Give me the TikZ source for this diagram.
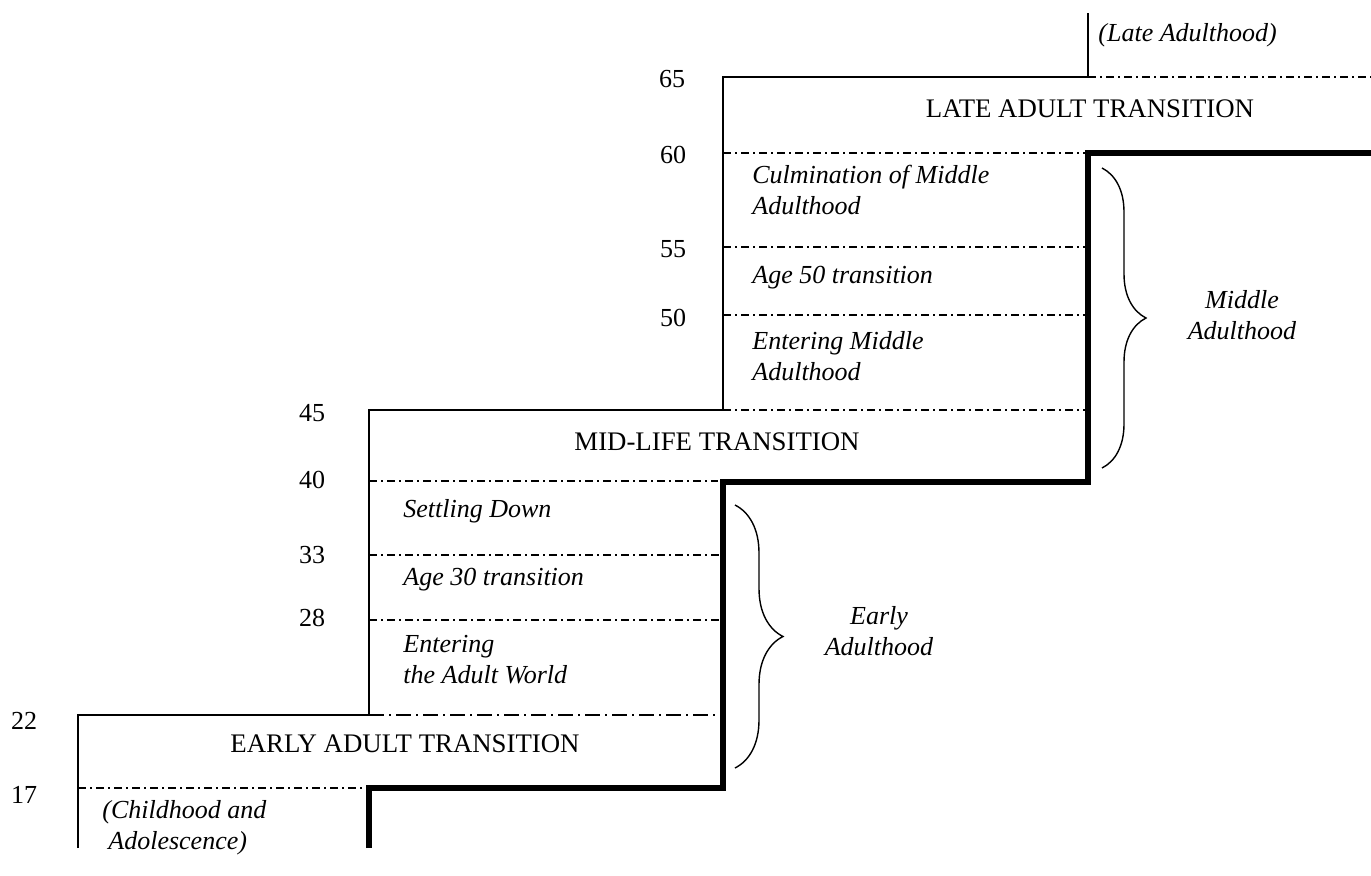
\documentclass[tikz,border=0pt]{standalone}
\usepackage{fontspec}
\setmainfont{Liberation Serif}
\usetikzlibrary{decorations.pathreplacing}
\tikzset{
  outline/.style={line width=0.8pt},
  phase/.style={line width=3.4pt},
  tick/.style={line width=0.6pt, dash pattern=on 4pt off 2pt on 1pt off 2pt},
  ticklong/.style={tick, dash pattern=on 7.5pt off 2.5pt on 1pt off 2.5pt},
  age/.style={font=\fontsize{13}{15}\selectfont, inner sep=0pt},
  trans/.style={font=\fontsize{13.4}{15}\selectfont, anchor=base, inner sep=0pt},
  era/.style={font=\fontsize{13}{15.5}\selectfont\itshape, align=left,
              anchor=base west, inner sep=0pt},
  span/.style={decorate, decoration={brace, amplitude=#1}, line width=0.7pt}
}
\begin{document}
\begin{tikzpicture}[x=0.5pt, y=-0.5pt]
  \useasboundingbox (0,0) rectangle (1371,875);
  % steps
  \draw[outline] (78,848) |- (369,715) |- (723,410) |- (1088,77) -- (1088,13);
  \draw[phase] (369,848) |- (723,788) |- (1088,482) |- (1371,153);
  \draw[tick] (78,788) -- (366,788);
  \draw[ticklong] (369,715) -- (718,715);
  \draw[tick] (369,620) -- (720,620);
  \draw[tick] (369,555) -- (720,555);
  \draw[tick] (369,481) -- (718,481);
  \draw[tick] (723,410) -- (1085,410);
  \draw[tick] (723,315) -- (1085,315);
  \draw[tick] (723,247) -- (1085,247);
  \draw[tick] (723,153) -- (1085,153);
  \draw[tick] (1088,77) -- (1371,77);
  % ages
  \node[age] (a65) at (672,79) {65};
  \node[age] (a60) at (673,155) {60};
  \node[age] (a55) at (673,249) {55};
  \node[age] (a50) at (673,318) {50};
  \node[age] (a45) at (312,413) {45};
  \node[age] (a40) at (312,480) {40};
  \node[age] (a33) at (312,555) {33};
  \node[age] (a28) at (312,618) {28};
  \node[age] (a22) at (24,721) {22};
  \node[age] (a17) at (24,795) {17};
  % transitions
  \node[trans] (early) at (405,752) {EARLY ADULT TRANSITION};
  \node[trans] (midlife) at (717,450) {MID-LIFE TRANSITION};
  \node[trans] (late) at (1090,117) {LATE ADULT TRANSITION};
  % periods (base = last line)
  \node[era] (child) at (102,849) {(Childhood and\\\hspace{3pt}Adolescence)};
  \node[era] (enter) at (403,683) {Entering\\the Adult World};
  \node[era] (age30) at (403,585) {Age 30 transition};
  \node[era] (settle) at (403,517) {Settling Down};
  \node[era] (entermid) at (752,380) {Entering Middle\\Adulthood};
  \node[era] (age50) at (752,283) {Age 50 transition};
  \node[era] (culm) at (752,214) {Culmination of Middle\\Adulthood};
  \node[era] (lateadult) at (1098,41) {(Late Adulthood)};
  % braces
  \draw[span=22pt] (1102,168) -- (1102,468);
  \draw[span=24pt] (735,505) -- (735,768);
  \node[era, align=center, anchor=base] (middle) at (1242,339) {Middle\\Adulthood};
  \node[era, align=center, anchor=base] (earlyad) at (879,655) {Early\\Adulthood};
\end{tikzpicture}
\end{document}
